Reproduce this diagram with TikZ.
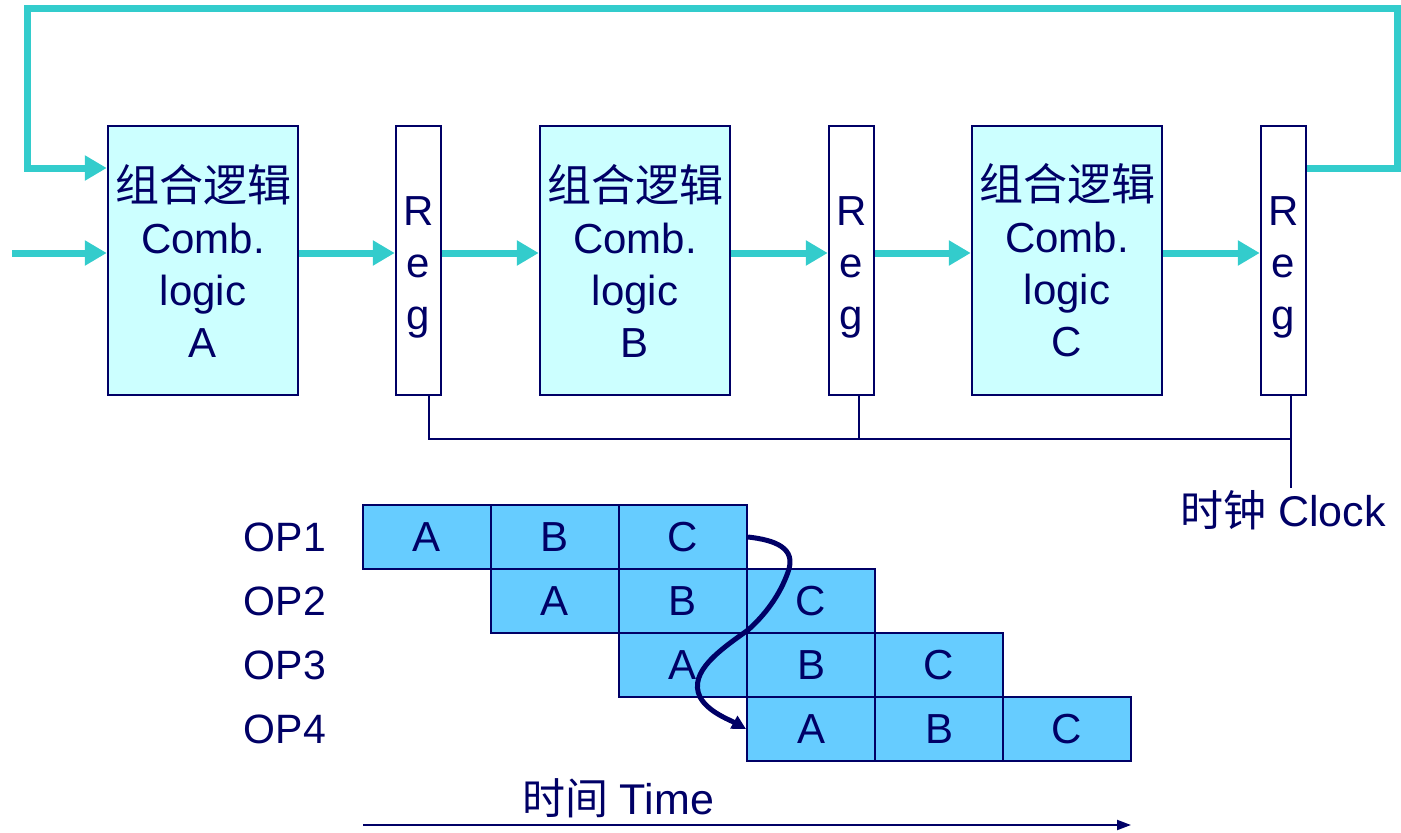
\documentclass[tikz,border=0pt]{standalone}
\usepackage{fontspec}
\setmainfont{Liberation Sans}
\newfontfamily\cjk{Noto Sans CJK SC}
\usetikzlibrary{arrows.meta,calc}
\definecolor{flow}{HTML}{33CCCC}
\definecolor{navyc}{HTML}{000066}
\definecolor{boxfill}{HTML}{CCFFFF}
\definecolor{cellfill}{HTML}{66CCFF}
\tikzset{
  comb/.style={draw=navyc, line width=2.5pt, fill=boxfill, minimum width=190pt, minimum height=269pt, inner sep=0pt, text=navyc, align=center, font=\fontsize{42}{52}\selectfont},
  regbox/.style={draw=navyc, line width=2.5pt, fill=white, minimum width=45pt, minimum height=269pt, inner sep=0pt},
  regtext/.style={text=navyc, align=center, inner sep=0pt, font=\fontsize{42}{52}\selectfont},
  flowarrow/.style={draw=flow, line width=7pt, -{Triangle[length=22pt,width=24pt]}},
  clk/.style={draw=navyc, line width=2pt},
  cell/.style={draw=navyc, line width=2pt, fill=cellfill, minimum width=128pt, minimum height=64pt, inner sep=0pt, text=navyc, font=\fontsize{42}{48}\selectfont},
  oplabel/.style={text=navyc, font=\fontsize{41}{44}\selectfont},
}
\begin{document}
\begin{tikzpicture}[x=1pt,y=-1pt]
\useasboundingbox (0,0) rectangle (1401,833);
% blocks
\node[comb] (ca) at (203,260.5) {{\cjk\fontsize{44}{52}\selectfont 组合逻辑}\\Comb.\\logic\\A};
\node[regbox] (r1) at (418.5,260.5) {};
\node[comb] (cb) at (635,260.5) {{\cjk\fontsize{44}{52}\selectfont 组合逻辑}\\Comb.\\logic\\B};
\node[regbox] (r2) at (851.5,260.5) {};
\node[comb] (cc) at (1067,260.5) {{\cjk\fontsize{44}{52}\selectfont 组合逻辑}\\Comb.\\logic\\C};
\node[regbox] (r3) at (1283.5,260.5) {};
\foreach \n in {r1,r2,r3}{
  \node[regtext] (\n t) at ([yshift=-7pt]\n.center) {R\\e\\g};
}
% input
\coordinate (in) at (12,253);
\draw[flowarrow] (in) -- (ca.west |- in);
\draw[flowarrow] (ca.east |- in) -- (r1.west |- in);
\draw[flowarrow] (r1.east |- in) -- (cb.west |- in);
\draw[flowarrow] (cb.east |- in) -- (r2.west |- in);
\draw[flowarrow] (r2.east |- in) -- (cc.west |- in);
\draw[flowarrow] (cc.east |- in) -- (r3.west |- in);
% feedback
\coordinate (fb) at (0,168);
\draw[flowarrow] (r3.east |- fb) -- (1397,168) -- (1397,8) -- (27,8) -- (27,168) -- (ca.west |- fb);
% clock
\coordinate (k1) at ([xshift=10pt]r1.south);
\coordinate (k2) at ([xshift=7pt]r2.south);
\coordinate (k3) at ([xshift=7.5pt]r3.south);
\coordinate (kend) at (1291,488);
\draw[clk] (k1) -- (k1 |- 0,439) -- (kend |- 0,439) -- (kend);
\draw[clk] (k2) -- (k2 |- 0,439);
\draw[clk] (k3) -- (k3 |- 0,439);
\node[text=navyc, font=\fontsize{43}{48}\selectfont] (clock) at (1283,510) {{\cjk 时钟} Clock};
% pipeline
\foreach \r/\op in {1/OP1,2/OP2,3/OP3,4/OP4}{
  \node[oplabel] (op\r) at (285,{473+64*\r}) {\op};
}
\foreach \r in {1,...,4}{
  \foreach \c/\l in {0/A,1/B,2/C}{
    \pgfmathtruncatemacro{\col}{\r+\c-1}
    \node[cell] (p\r\l) at ({427+128*\col},{473+64*\r}) {\l};
  }
}
\draw[navyc, line width=5pt, -{Triangle[length=14pt,width=14pt]}]
  (p1C.east) .. controls (775,540) and (797,548) .. (788,572)
  .. controls (780,595) and (765,615) .. (748,630)
  .. controls (720,650) and (688,672) .. (700,697)
  .. controls (708,712) and (730,720) .. (p4A.west);
\node[text=navyc, font=\fontsize{43}{48}\selectfont] (time) at (618,798) {{\cjk 时间} Time};
\coordinate (t0) at (363,825);
\coordinate (t1) at (1131,825);
\draw[navyc, line width=2pt, -{Triangle[length=14pt,width=10pt]}] (t0) -- (t1);
\end{tikzpicture}
\end{document}
